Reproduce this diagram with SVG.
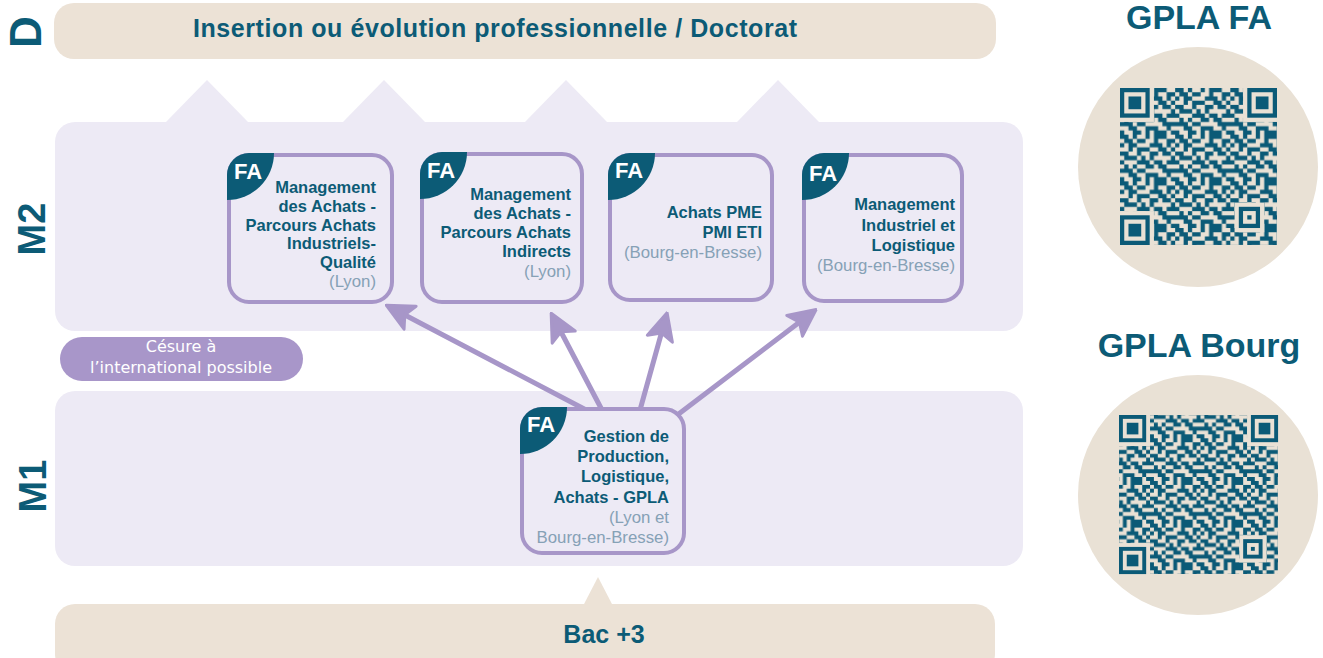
<svg xmlns="http://www.w3.org/2000/svg" xmlns:xlink="http://www.w3.org/1999/xlink" width="1323" height="658" viewBox="0 0 1323 658">
<style>
.beige{fill:#ece2d6}
.lav{fill:#edeaf5}
.card{fill:#edeaf5;stroke:#a796c8;stroke-width:4}
.tab{fill:#0c5b76}
.fa{font-family:"Liberation Sans",Arial,sans-serif;font-weight:bold;font-size:22px;fill:#ffffff}
.t{font-family:"Liberation Sans",Arial,sans-serif;font-weight:bold;font-size:16.5px;fill:#0c5b76;text-anchor:end}
.s{font-family:"Liberation Sans",Arial,sans-serif;font-size:16.8px;fill:#86a1b6;text-anchor:end}
.big{font-family:"Liberation Sans",Arial,sans-serif;font-weight:bold;fill:#0c5b76;text-anchor:middle}
.ces{font-family:"DejaVu Sans",sans-serif;font-size:16px;fill:#ffffff;text-anchor:middle}
.conn{stroke:#a796c8;stroke-width:5;stroke-linecap:round;fill:none}
.qd{fill:#0b5a77}
.qb{fill:#e9e1d5}
</style>
<defs>
<marker id="ah" markerUnits="userSpaceOnUse" viewBox="0 0 30 30" markerWidth="30" markerHeight="30" refX="10" refY="15" orient="auto">
<path d="M29,15 L2,2 L8,15 L2,28 Z" fill="#a796c8" stroke="#a796c8" stroke-width="3" stroke-linejoin="round"/>
</marker>
<path id="tabshape" d="M0 47V22A22 22 0 0 1 22 0H47A47 47 0 0 1 0 47Z"/>
<g id="fp"><rect width="7" height="7" class="qd"/><rect x="1" y="1" width="5" height="5" class="qb"/><rect x="2" y="2" width="3" height="3" class="qd"/></g>
<g id="ap"><rect width="5" height="5" class="qd"/><rect x="1" y="1" width="3" height="3" class="qb"/><rect x="2" y="2" width="1" height="1" class="qd"/></g>
<pattern id="qr1" patternUnits="userSpaceOnUse" width="13" height="11" patternTransform="translate(1120,88) scale(4.243)">
<path class="qd" d="M0 0h2v1h-2zM3 0h1v1h-1zM6 0h1v1h-1zM8 0h3v1h-3zM1 1h2v1h-2zM4 1h2v1h-2zM8 1h1v1h-1zM11 1h2v1h-2zM0 2h1v1h-1zM2 2h2v1h-2zM7 2h3v1h-3zM11 2h1v1h-1zM2 3h1v1h-1zM4 3h3v1h-3zM9 3h2v1h-2zM12 3h1v1h-1zM0 4h2v1h-2zM4 4h1v1h-1zM7 4h2v1h-2zM10 4h2v1h-2zM1 5h3v1h-3zM5 5h1v1h-1zM7 5h1v1h-1zM12 5h1v1h-1zM0 6h1v1h-1zM4 6h3v1h-3zM8 6h2v1h-2zM11 6h2v1h-2zM1 7h1v1h-1zM3 7h1v1h-1zM6 7h2v1h-2zM9 7h2v1h-2zM0 8h3v1h-3zM4 8h2v1h-2zM10 8h3v1h-3zM2 9h2v1h-2zM6 9h3v1h-3zM11 9h1v1h-1zM0 10h1v1h-1zM3 10h2v1h-2zM6 10h1v1h-1zM8 10h3v1h-3zM12 10h1v1h-1z"/>
</pattern>
<pattern id="qr2" patternUnits="userSpaceOnUse" width="13" height="11" patternTransform="translate(1099.6,395.6) scale(3.88)">
<path class="qd" d="M0 0h2v1h-2zM3 0h1v1h-1zM6 0h1v1h-1zM8 0h3v1h-3zM1 1h2v1h-2zM4 1h2v1h-2zM8 1h1v1h-1zM11 1h2v1h-2zM0 2h1v1h-1zM2 2h2v1h-2zM7 2h3v1h-3zM11 2h1v1h-1zM2 3h1v1h-1zM4 3h3v1h-3zM9 3h2v1h-2zM12 3h1v1h-1zM0 4h2v1h-2zM4 4h1v1h-1zM7 4h2v1h-2zM10 4h2v1h-2zM1 5h3v1h-3zM5 5h1v1h-1zM7 5h1v1h-1zM12 5h1v1h-1zM0 6h1v1h-1zM4 6h3v1h-3zM8 6h2v1h-2zM11 6h2v1h-2zM1 7h1v1h-1zM3 7h1v1h-1zM6 7h2v1h-2zM9 7h2v1h-2zM0 8h3v1h-3zM4 8h2v1h-2zM10 8h3v1h-3zM2 9h2v1h-2zM6 9h3v1h-3zM11 9h1v1h-1zM0 10h1v1h-1zM3 10h2v1h-2zM6 10h1v1h-1zM8 10h3v1h-3zM12 10h1v1h-1z"/>
</pattern>
</defs>
<rect width="1323" height="658" fill="#ffffff"/>

<!-- level bands -->
<g id="level-D">
<rect class="beige" x="54" y="3" width="942" height="56" rx="20"/>
<text class="big" x="495" y="37" font-size="25" textLength="604">Insertion ou évolution professionnelle / Doctorat</text>
<text class="big" font-size="44" transform="translate(41,32) rotate(-90)">D</text>
</g>
<g id="level-M2">
<polygon class="lav" points="166,122 207,80 248,122"/>
<polygon class="lav" points="343,122 384,80 425,122"/>
<polygon class="lav" points="525,122 566,80 607,122"/>
<polygon class="lav" points="737,122 778,80 819,122"/>
<rect class="lav" x="55" y="122" width="968" height="209" rx="20"/>
<text class="big" font-size="38" transform="translate(45,229) rotate(-90)">M2</text>
</g>
<g id="level-M1">
<rect class="lav" x="55" y="391" width="968" height="175" rx="20"/>
<text class="big" font-size="38" transform="translate(46,486) rotate(-90)">M1</text>
</g>
<g id="level-bac3">
<polygon class="beige" points="583,606 598,577 613,606"/>
<rect class="beige" x="55" y="604" width="940" height="70" rx="20"/>
<text class="big" x="604" y="643" font-size="25">Bac +3</text>
</g>
<g id="cesure">
<rect x="60" y="337" width="243" height="44" rx="22" fill="#a896c9"/>
<text class="ces" x="181" y="352">Césure à</text>
<text class="ces" x="181" y="373">l’international possible</text>
</g>

<!-- connectors -->
<g id="connectors">
<line class="conn" x1="590" y1="412" x2="403" y2="314" marker-end="url(#ah)"/>
<line class="conn" x1="602" y1="410" x2="560" y2="330" marker-end="url(#ah)"/>
<line class="conn" x1="640" y1="410" x2="662" y2="331" marker-end="url(#ah)"/>
<line class="conn" x1="676" y1="416" x2="801" y2="321" marker-end="url(#ah)"/>
</g>

<!-- M2 nodes -->
<g id="node-achats-industriels">
<rect class="card" x="229" y="155" width="163" height="147" rx="20"/>
<use href="#tabshape" class="tab" x="227" y="153"/>
<text class="fa" x="234" y="179">FA</text>
<text class="t" x="376" y="193">Management</text>
<text class="t" x="376" y="212">des Achats -</text>
<text class="t" x="376" y="231">Parcours Achats</text>
<text class="t" x="376" y="249">Industriels-</text>
<text class="t" x="376" y="268">Qualité</text>
<text class="s" x="376" y="287">(Lyon)</text>
</g>
<g id="node-achats-indirects">
<rect class="card" x="422" y="154" width="160" height="148" rx="20"/>
<use href="#tabshape" class="tab" x="420" y="152"/>
<text class="fa" x="427" y="178">FA</text>
<text class="t" x="571" y="200">Management</text>
<text class="t" x="571" y="219">des Achats -</text>
<text class="t" x="571" y="238">Parcours Achats</text>
<text class="t" x="571" y="257">Indirects</text>
<text class="s" x="571" y="277">(Lyon)</text>
</g>
<g id="node-achats-pme">
<rect class="card" x="610" y="155" width="162" height="145" rx="20"/>
<use href="#tabshape" class="tab" x="608" y="153"/>
<text class="fa" x="615" y="178">FA</text>
<text class="t" x="762" y="218">Achats PME</text>
<text class="t" x="762" y="238">PMI ETI</text>
<text class="s" x="762" y="258">(Bourg-en-Bresse)</text>
</g>
<g id="node-mil">
<rect class="card" x="804" y="155" width="158" height="146" rx="20"/>
<use href="#tabshape" class="tab" x="802" y="153"/>
<text class="fa" x="809" y="181">FA</text>
<text class="t" x="955" y="210">Management</text>
<text class="t" x="955" y="231">Industriel et</text>
<text class="t" x="955" y="251">Logistique</text>
<text class="s" x="955" y="271">(Bourg-en-Bresse)</text>
</g>

<!-- M1 node -->
<g id="node-gpla">
<rect class="card" x="522" y="409" width="162" height="144" rx="20"/>
<use href="#tabshape" class="tab" x="520" y="407"/>
<text class="fa" x="527" y="432">FA</text>
<text class="t" x="669" y="442">Gestion de</text>
<text class="t" x="669" y="462">Production,</text>
<text class="t" x="669" y="482">Logistique,</text>
<text class="t" x="669" y="503">Achats - GPLA</text>
<text class="s" x="669" y="523">(Lyon et</text>
<text class="s" x="669" y="543">Bourg-en-Bresse)</text>
</g>

<!-- QR codes -->
<g id="qr-gpla-fa">
<text class="big" x="1199" y="29" font-size="34">GPLA FA</text>
<circle cx="1198" cy="167" r="120" class="qb"/>
<rect x="1120" y="88" width="157" height="157" fill="url(#qr1)"/>
<g transform="translate(1120,88) scale(4.243)">
<rect width="8" height="8" class="qb"/><rect x="29" width="8" height="8" class="qb"/><rect y="29" width="8" height="8" class="qb"/>
<use href="#fp"/><use href="#fp" x="30"/><use href="#fp" y="30"/>
<rect x="27" y="27" width="7" height="7" class="qb"/><use href="#ap" x="28" y="28"/>
</g>
</g>
<g id="qr-gpla-bourg">
<text class="big" x="1199" y="357" font-size="34">GPLA Bourg</text>
<circle cx="1198" cy="495" r="120" class="qb"/>
<rect x="1119" y="415" width="159" height="159" fill="url(#qr2)"/>
<g transform="translate(1119,415) scale(3.88)">
<rect width="8" height="8" class="qb"/><rect x="33" width="8" height="8" class="qb"/><rect y="33" width="8" height="8" class="qb"/>
<use href="#fp"/><use href="#fp" x="34"/><use href="#fp" y="34"/>
<rect x="31" y="31" width="7" height="7" class="qb"/><use href="#ap" x="32" y="32"/>
</g>
</g>
</svg>
